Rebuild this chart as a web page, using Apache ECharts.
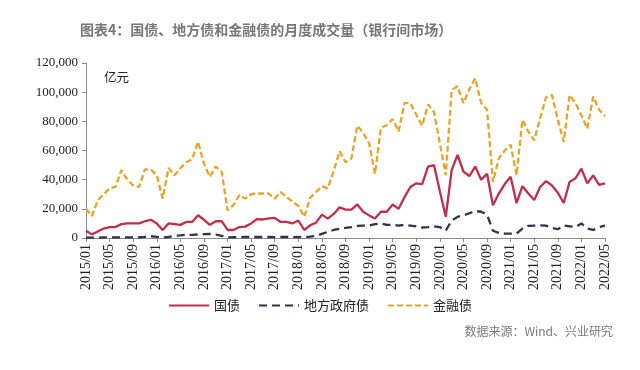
<!DOCTYPE html>
<html>
<head>
<meta charset="utf-8">
<script src="https://cdn.jsdelivr.net/npm/echarts@6/dist/echarts.min.js"></script>
<style>html,body{margin:0;padding:0;background:#fff;}#c{width:640px;height:370px;}</style>
</head>
<body>
<div id="c"></div>
<script>
// Categories: monthly 2015/01 .. 2022/05
var startYear = 2015, startMonth = 1, monthCount = 89;
var categories = [];
for (var i = 0; i < monthCount; i++) {
  var m = startMonth - 1 + i;
  var y = startYear + Math.floor(m / 12);
  var mm = (m % 12) + 1;
  categories.push(y + '/' + (mm < 10 ? '0' + mm : mm));
}

var seriesNames = ['国债', '地方政府债', '金融债'];

// 国债 (亿元)
var govBond = [5000,2500,4500,6500,7500,7500,9500,10000,10000,10000,11500,12500,
  10000,5500,10000,9500,9000,11000,11000,15600,12500,9000,11500,11500,
  5500,5500,7500,7800,10000,13000,12700,13500,13800,11000,11000,10000,
  12000,5500,8700,10500,16000,13300,16500,21000,19500,19500,23000,18000,
  15500,13300,18000,18000,23000,20000,28000,35000,37500,37000,49000,50000,
  32000,14500,46500,57000,45500,42500,49000,40000,44000,22500,30500,37000,
  42000,24000,35500,30500,26000,35000,39000,36000,31000,24000,38500,41000,
  47500,37500,43000,36500,37500];

// 地方政府债 (亿元)
var localBond = [300,300,300,400,400,400,500,400,400,500,800,1200,
  800,300,800,1500,1800,2200,2200,2400,2600,2800,2400,1500,
  400,500,600,700,700,700,700,700,600,700,700,600,
  700,600,1000,1500,2800,4200,5500,6300,7000,7500,8300,8500,
  8500,9500,10000,9000,9000,8500,9000,8500,8000,7200,7500,8000,
  7500,5000,12000,14500,15500,17000,18500,18000,16000,5000,3500,3000,
  3000,3000,6500,8300,8500,8700,8500,7000,6000,8500,8000,7500,
  10000,6500,5500,7500,8500];

// 金融债 (亿元)
var finBond = [20000,15000,26000,30000,34000,35000,46500,40000,36000,35000,47000,47000,
  43000,27000,48000,43000,48000,52000,54000,66000,51000,42000,49000,45500,
  19000,22500,29500,27000,30000,30500,30500,30500,27000,31500,28000,25000,
  22000,14500,27500,31500,35500,34000,46000,59500,52000,54500,77000,72000,
  65000,44000,75500,77500,81500,73000,92500,92500,84500,77000,91500,86500,
  65000,43000,101500,104000,92500,102000,109500,92500,88000,38500,54500,60000,
  64000,43000,81000,73000,67000,82000,96500,98000,81000,66000,98000,92500,
  84000,75000,97000,88000,83500];

var yTicks = { min: 0, max: 120000, interval: 20000 };

var serif = 'Liberation Serif';
var cjk = 'Noto Sans CJK SC';

var chart = echarts.init(document.getElementById('c'), null, { renderer: 'canvas' });
chart.setOption({
  animation: false,
  backgroundColor: '#ffffff',
  title: {
    text: '图表4：国债、地方债和金融债的月度成交量（银行间市场）',
    left: 75, top: 18,
    textStyle: { fontFamily: cjk, fontSize: 14, fontWeight: 'bold', color: '#777777' }
  },
  graphic: [
    { type: 'text', left: 104, top: 71, style: { text: '亿元', fontFamily: cjk, fontSize: 12.5, fill: '#222' } },
    { type: 'text', right: 27, top: 325, style: { text: '数据来源：Wind、兴业研究', fontFamily: cjk, fontSize: 12, fill: '#7a7a7a' } }
  ],
  legend: {
    left: 163, top: 294,
    itemWidth: 40, itemHeight: 10, itemGap: 18,
    itemStyle: { opacity: 0 },
    textStyle: { fontFamily: cjk, fontSize: 13, color: '#222' },
    data: seriesNames
  },
  grid: { left: 86, right: 35, top: 63, bottom: 132, containLabel: false },
  xAxis: {
    type: 'category', data: categories, boundaryGap: false,
    axisLine: { lineStyle: { color: '#8c8c8c', width: 1 } },
    axisTick: { show: true, interval: 3, length: 4, lineStyle: { color: '#8c8c8c' } },
    axisLabel: { interval: 3, rotate: 90, margin: 6, fontFamily: serif, fontSize: 14, color: '#222' }
  },
  yAxis: {
    type: 'value', min: yTicks.min, max: yTicks.max, interval: yTicks.interval,
    axisLine: { show: true, lineStyle: { color: '#8c8c8c', width: 1 } },
    axisTick: { show: true, length: 4, lineStyle: { color: '#8c8c8c' } },
    splitLine: { show: false },
    axisLabel: { margin: 8, fontFamily: serif, fontSize: 13, color: '#222',
      formatter: function (v) { return v.toLocaleString('en-US'); } }
  },
  series: [
    { name: seriesNames[0], type: 'line', data: govBond, symbol: 'none', showSymbol: false,
      itemStyle: { color: '#bf2f4c' }, lineStyle: { color: '#bf2f4c', width: 2.3 } },
    { name: seriesNames[1], type: 'line', data: localBond, symbol: 'none', showSymbol: false,
      itemStyle: { color: '#2a3550' }, lineStyle: { color: '#2a3550', width: 2.3, type: [8, 5] } },
    { name: seriesNames[2], type: 'line', data: finBond, symbol: 'none', showSymbol: false,
      itemStyle: { color: '#e6a52a' }, lineStyle: { color: '#e6a52a', width: 2.3, type: [6, 3] } }
  ]
});
</script>
</body>
</html>
